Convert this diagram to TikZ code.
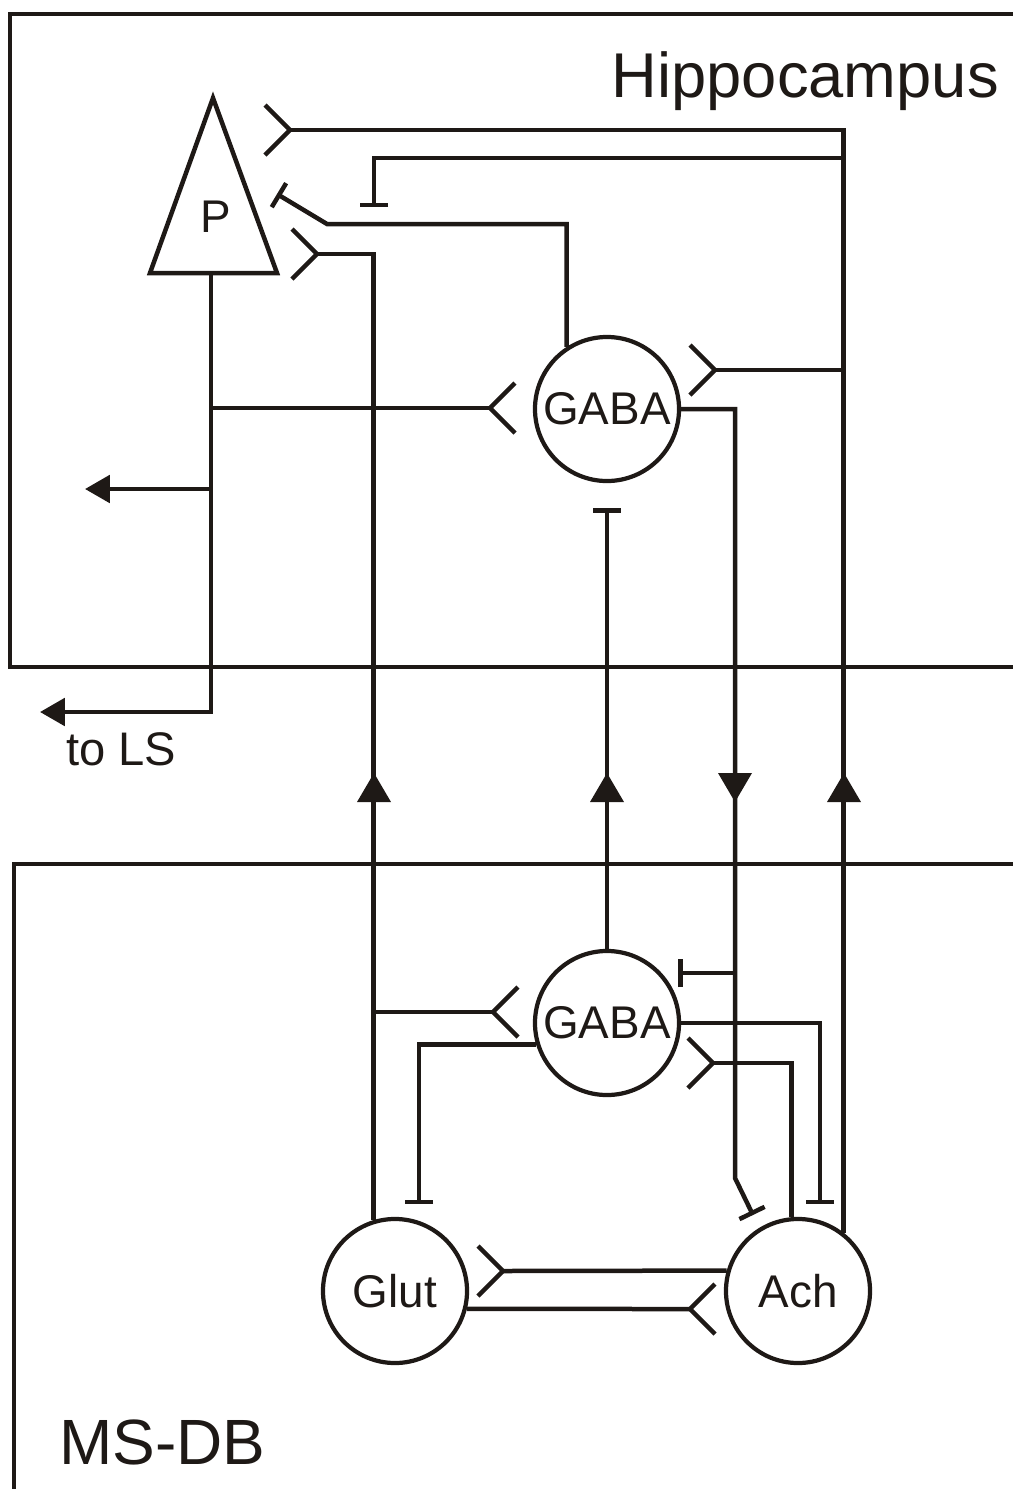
\documentclass[tikz,border=0pt]{standalone}
\usepackage{fontspec}
\setmainfont{Liberation Sans}
\usetikzlibrary{arrows.meta}
\definecolor{ink}{RGB}{30,25,22}
\tikzset{
  ax/.style={draw=ink,line width=3.2pt},
  frame/.style={draw=ink,line width=2.2pt},
  cell/.style={circle,draw=ink,line width=3pt,minimum size=3.6cm,inner sep=0pt,text=ink,font=\fontsize{32.6}{36}\selectfont},
  lab/.style={inner sep=0pt,text=ink},
  inh/.style={-{Bar[width=0.7cm]}},
  proj/.style={-{Triangle[length=0.62cm,width=0.68cm]}},
  fork/.pic={\draw[ax] (25,-25) -- (0,0) -- (25,25);},
  head/.pic={\fill[ink] (-17,14) -- (17,14) -- (0,-15) -- cycle;}
}
\begin{document}
\begin{tikzpicture}[x=0.025cm,y=-0.025cm]
  \useasboundingbox (0,0) rectangle (1013,1489);
  \draw[frame] (1030,14) -| (10,667) -- (1030,667);
  \draw[frame] (1030,864) -| (14,1500);
  \node[lab,anchor=base east,font=\fontsize{45}{50}\selectfont] (hip) at (999,97) {Hippocampus};
  \node[lab,anchor=base west,font=\fontsize{45.5}{50}\selectfont] (msdb) at (59,1464) {MS-DB};

  \draw[ax] (213,98) -- (277,273) -- (150,273) -- cycle;
  \node[lab,font=\fontsize{32.6}{36}\selectfont] (pyr) at (216,217) {P};
  \coordinate (soma) at (211,273);
  \node[cell] (gabaH) at (607,409) {GABA};
  \node[cell] (gabaM) at (607,1023) {GABA};
  \node[cell] (glut) at (395,1291) {Glut};
  \node[cell] (ach) at (798,1291) {Ach};

  \coordinate (eP1) at (290,130);
  \draw[ax] (ach.52) |- (eP1);
  \pic[rotate=180] at (eP1) {fork};
  \coordinate (iG) at (374,207);
  \draw[ax,inh] (ach.52 |- 0,158) -| (iG);
  \coordinate (eG1) at (715,370);
  \draw[ax] (ach.52 |- 0,370) -- (eG1);
  \pic[rotate=180] at (eG1) {fork};

  \coordinate (eP2) at (317,254);
  \draw[ax] (glut.107) |- (eP2);
  \pic[rotate=180] at (eP2) {fork};
  \coordinate (eM1) at (493,1012);
  \draw[ax] (glut.107 |- eM1) -- (eM1);
  \pic at (eM1) {fork};

  \coordinate (iP) at (277,194);
  \draw[ax,inh] (gabaH.123) |- (327,224) -- (iP);

  \coordinate (ls) at (40,712);
  \draw[ax,proj] (soma) |- (ls);
  \coordinate (side) at (85,489);
  \draw[ax,proj] (soma |- side) -- (side);
  \coordinate (eG2) at (490,408);
  \draw[ax] (soma |- eG2) -- (eG2);
  \pic at (eG2) {fork};
  \node[lab,anchor=base west,font=\fontsize{33.5}{36}\selectfont] (lsLab) at (66,765) {to LS};

  \coordinate (iA1) at (753,1215);
  \draw[ax,inh] (gabaH.east) -| (735,1178) -- (iA1);
  \coordinate (iM1) at (678,973);
  \draw[ax,inh] (735,973) -- (iM1);

  \coordinate (iH) at (607,508);
  \draw[ax,inh] (gabaM.north) -- (iH);
  \coordinate (iGl) at (419,1204);
  \draw[ax,inh] (gabaM.197) -| (iGl);
  \coordinate (iA2) at (820,1204);
  \draw[ax,inh] (gabaM.east) -| (iA2);

  \coordinate (eM2) at (713,1063);
  \draw[ax] (ach.95) |- (eM2);
  \pic[rotate=180] at (eM2) {fork};
  \coordinate (eGl) at (503,1271);
  \draw[ax] (ach.164) -- (eGl);
  \pic[rotate=180] at (eGl) {fork};
  \coordinate (eA) at (690,1309);
  \draw[ax] (glut.-14) -- (eA);
  \pic at (eA) {fork};

  \foreach \x in {374,607,844} \pic at (\x,788) {head};
  \pic[rotate=180] at (735,787) {head};
\end{tikzpicture}
\end{document}
